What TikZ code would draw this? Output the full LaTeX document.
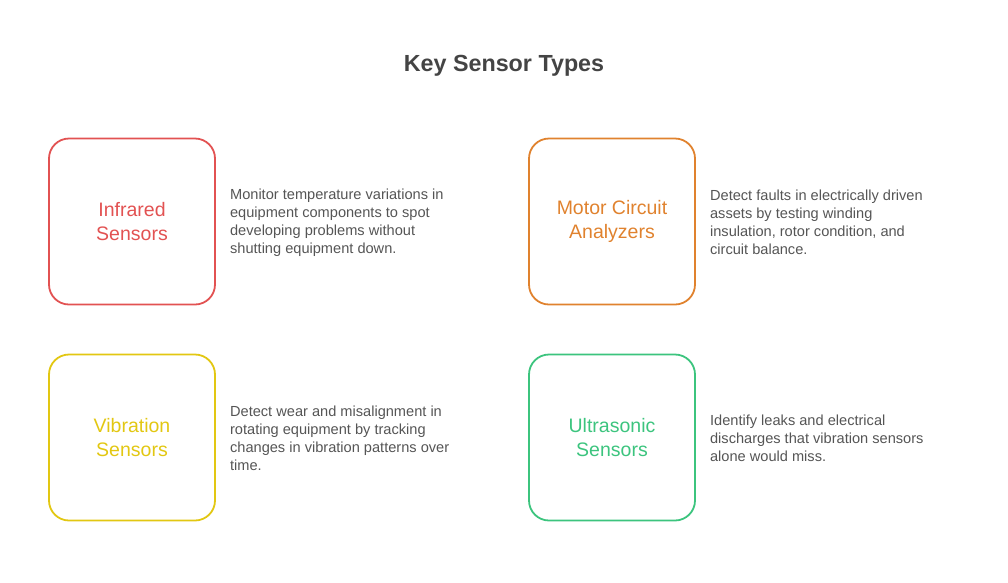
\documentclass[tikz,border=0pt]{standalone}
\usepackage{fontspec}
\setmainfont{Liberation Sans}
\usetikzlibrary{positioning}

\definecolor{infrared}{HTML}{E25252}
\definecolor{motor}{HTML}{E0822E}
\definecolor{vibration}{HTML}{E2C712}
\definecolor{ultra}{HTML}{3CC47E}
\definecolor{bodytext}{HTML}{555555}
\definecolor{titletext}{HTML}{444444}

\tikzset{
  sensorbox/.style={draw=#1, text=#1, line width=1.8pt, rounded corners=20pt,
    minimum width=166pt, minimum height=166pt, align=center,
    font=\fontsize{19.5}{24}\selectfont},
  desc/.style={anchor=west, inner sep=0pt, align=left, text=bodytext,
    font=\fontsize{14.6}{18}\selectfont}
}

\begin{document}
\begin{tikzpicture}[x=1pt,y=-1pt]
  \useasboundingbox (0,0) rectangle (1008,582);
  \node[font=\bfseries\fontsize{23.3}{28}\selectfont, text=titletext] (title) at (504,66) {Key Sensor Types};

  \node[sensorbox=infrared] (infra) at (132,221.5) {Infrared\\Sensors};
  \node[desc, right=14pt of infra, yshift=-1pt] (infradesc) {Monitor temperature variations in\\equipment components to spot\\developing problems without\\shutting equipment down.};

  \node[sensorbox=motor] (motor) at (612,221.5) {Motor Circuit\\Analyzers};
  \node[desc, right=14pt of motor, yshift=-1pt] (motordesc) {Detect faults in electrically driven\\assets by testing winding\\insulation, rotor condition, and\\circuit balance.};

  \node[sensorbox=vibration] (vib) at (132,437.5) {Vibration\\Sensors};
  \node[desc, right=14pt of vib, yshift=-1pt] (vibdesc) {Detect wear and misalignment in\\rotating equipment by tracking\\changes in vibration patterns over\\time.};

  \node[sensorbox=ultra] (ultra) at (612,437.5) {Ultrasonic\\Sensors};
  \node[desc, right=14pt of ultra, yshift=-1pt] (ultradesc) {Identify leaks and electrical\\discharges that vibration sensors\\alone would miss.};
\end{tikzpicture}
\end{document}
